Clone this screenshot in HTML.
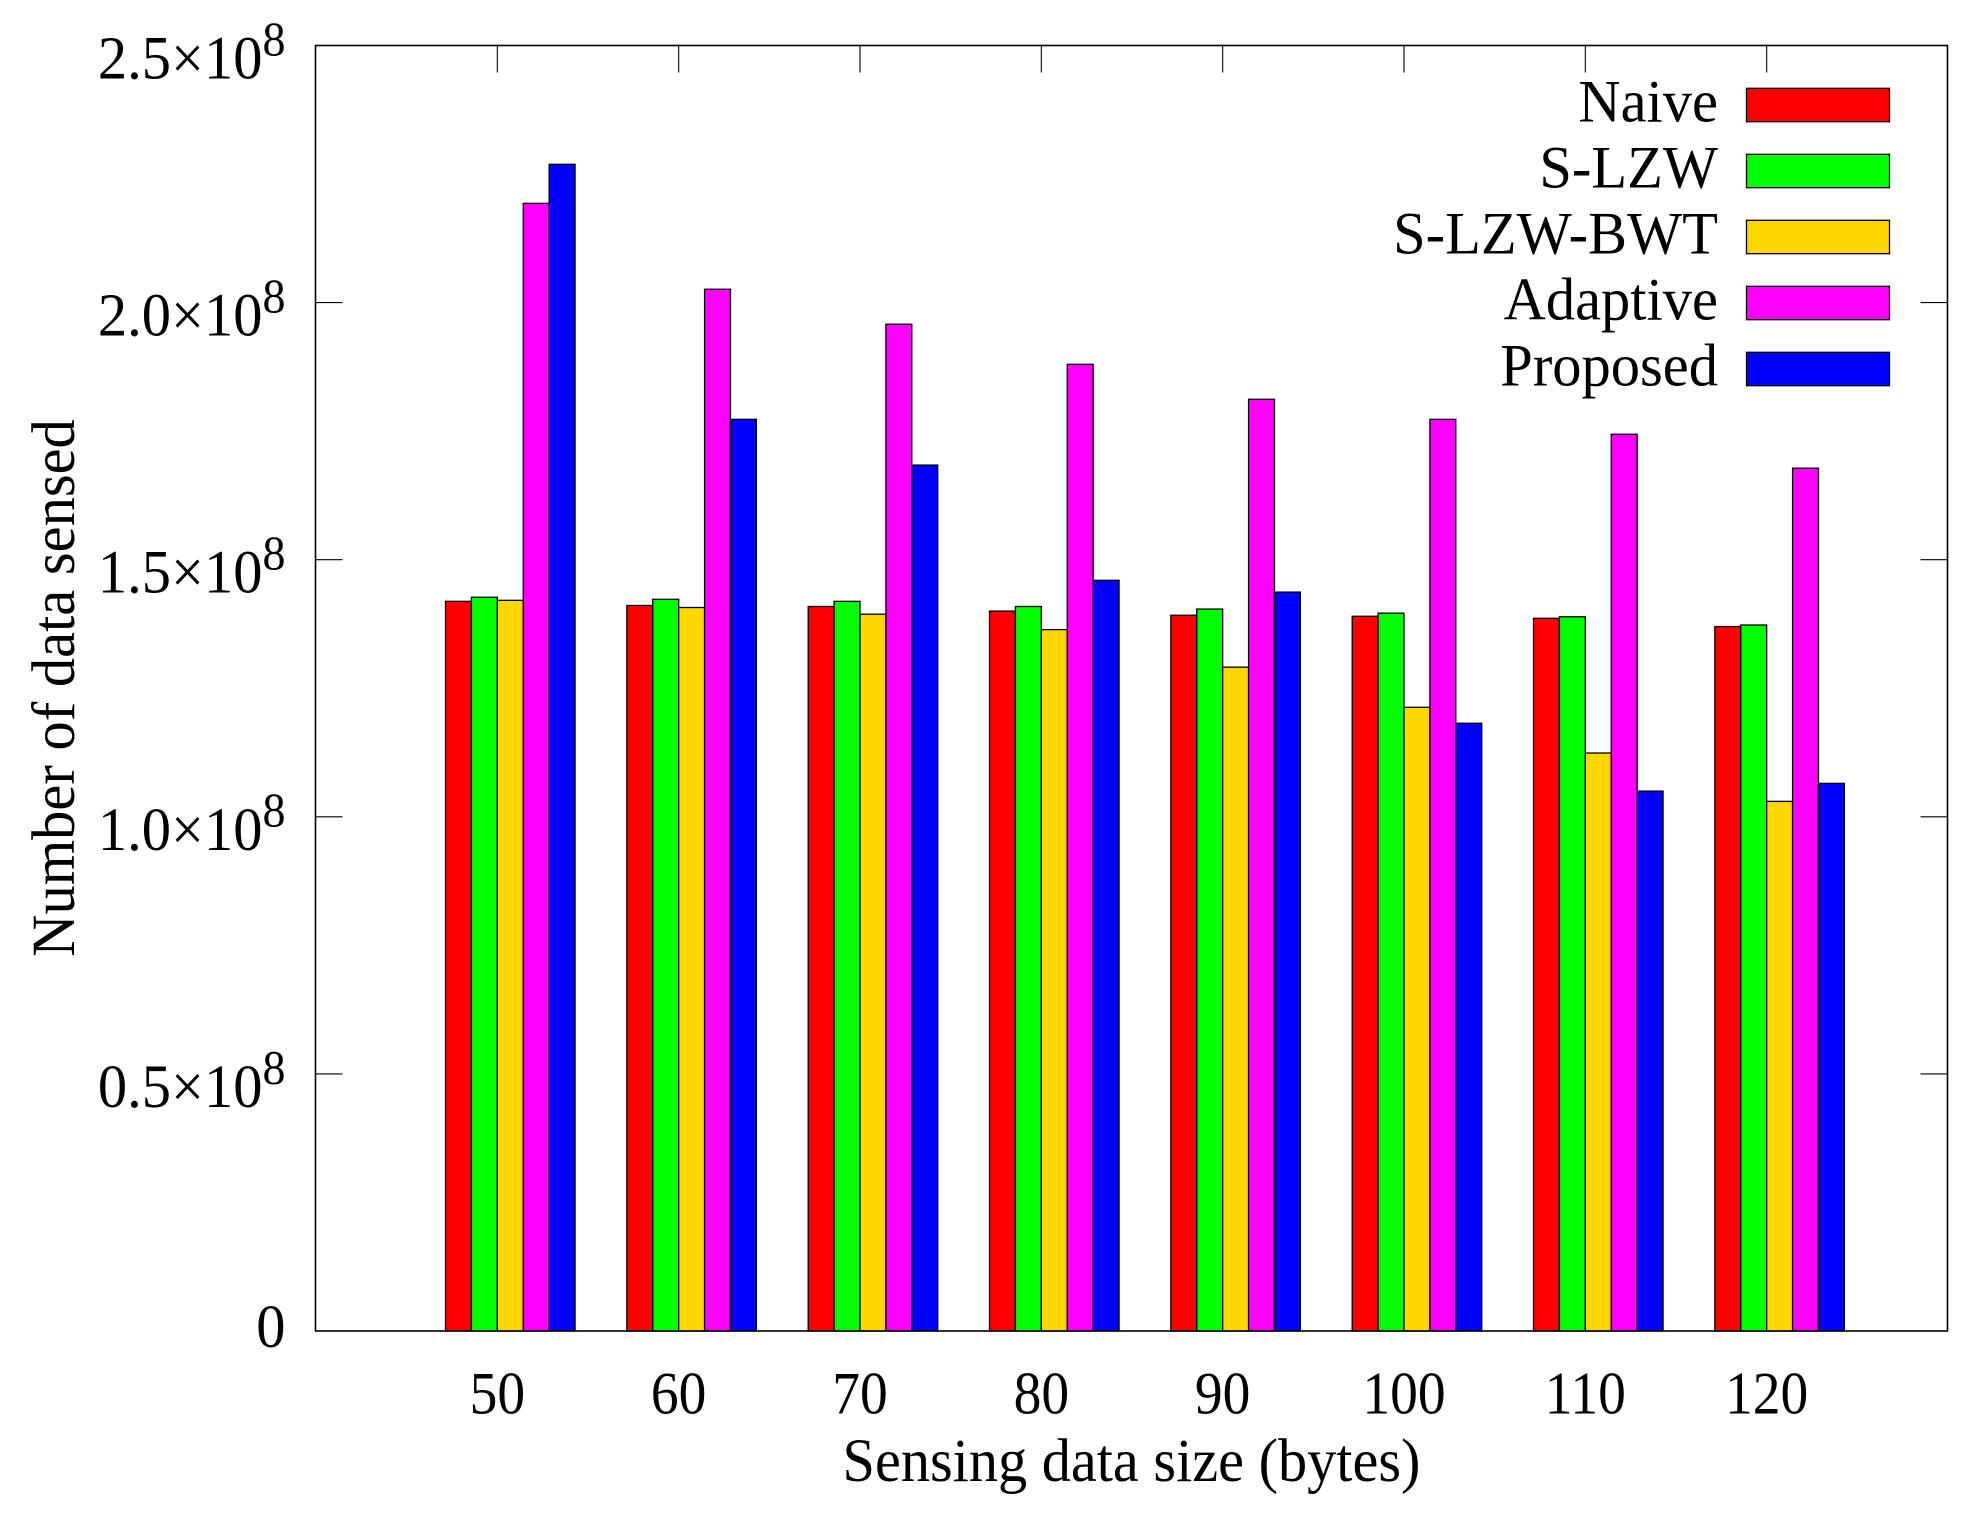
<!DOCTYPE html>
<html lang="en">
<head>
<meta charset="utf-8">
<title>Number of data sensed by sensing data size</title>
<style>
  html, body { margin: 0; padding: 0; background: #fff; }
  svg { display: block; }
  text { font-family: "Liberation Serif", serif; fill: #000; }
</style>
</head>
<body>
<svg id="chart" xmlns="http://www.w3.org/2000/svg" width="1966" height="1518" viewBox="0 0 1966 1518">
  <rect x="0" y="0" width="1966" height="1518" fill="#fff"></rect>
  <g id="bars"></g>
  <g id="ticks"></g>
  <rect x="315.5" y="45.5" width="1632" height="1285.5" fill="none" stroke="#000" stroke-width="1.6"></rect>
  <g id="labels"></g>
  <text transform="translate(1131.5 1481) scale(1 1.05)" x="0" y="0" font-size="58.3" text-anchor="middle">Sensing data size (bytes)</text>
  <text transform="translate(74 688) rotate(-90) scale(1 1.05)" x="0" y="0" font-size="58.5" text-anchor="middle">Number of data sensed</text>
  <g id="legend"></g>
</svg>
<script>
const categories = ['50', '60', '70', '80', '90', '100', '110', '120'];
const seriesNames = ['Naive', 'S-LZW', 'S-LZW-BWT', 'Adaptive', 'Proposed'];
const naive = [141900000, 141100000, 140900000, 140000000, 139200000, 139000000, 138600000, 137000000];
const sLzw = [142700000, 142300000, 141900000, 140900000, 140400000, 139600000, 138900000, 137300000];
const sLzwBwt = [142100000, 140700000, 139400000, 136400000, 129100000, 121300000, 112400000, 103000000];
const adaptive = [219300000, 202600000, 195800000, 188000000, 181200000, 177300000, 174400000, 167800000];
const proposed = [226900000, 177300000, 168400000, 146000000, 143700000, 118200000, 105000000, 106500000];
const yTickValues = [0, 50000000, 100000000, 150000000, 200000000, 250000000];
const yTickMantissas = ['0', '0.5', '1.0', '1.5', '2.0', '2.5'];
const yTickExponent = '8';

const allSeries = [naive, sLzw, sLzwBwt, adaptive, proposed];
const seriesColors = ['#ff0000', '#00ff00', '#ffd700', '#ff00ff', '#0000ff'];

const NS = 'http://www.w3.org/2000/svg';
const plotLeft = 315.5, plotRight = 1947.5, plotTop = 45.5, plotBottom = 1331;
const yMax = 250000000;
const xUnits = 9;
const unit = (plotRight - plotLeft) / xUnits;
const barWidth = unit / 7;
const tickLen = 27;

function xScale(i) { return plotLeft + 0.5 + (i + 1) * unit; }
function yScale(v) { return plotBottom - (v / yMax) * (plotBottom - plotTop); }
function make(tag, attrs, parent) {
  const el = document.createElementNS(NS, tag);
  for (const k in attrs) el.setAttribute(k, attrs[k]);
  parent.appendChild(el);
  return el;
}

const barsG = document.getElementById('bars');
const ticksG = document.getElementById('ticks');
const labelsG = document.getElementById('labels');
const legendG = document.getElementById('legend');

allSeries.forEach(function (values, s) {
  values.forEach(function (v, i) {
    const top = yScale(v);
    const bar = make('rect', {
      x: xScale(i) + (s - 2) * barWidth,
      y: top,
      width: barWidth,
      height: plotBottom - top,
      fill: seriesColors[s],
      stroke: '#000',
      'stroke-width': 1.3
    }, barsG);
    
    
  });
});

categories.forEach(function (c, i) {
  const x = xScale(i);
  const tick = make('line', { x1: x, x2: x, y1: plotTop, y2: plotTop + tickLen, stroke: '#000', 'stroke-width': 1.1 }, ticksG);
  
  
  const label = make('text', { transform: 'translate(' + x + ' 1413.5) scale(1 1.09)', x: 0, y: 0, 'font-size': 55.5, 'text-anchor': 'middle' }, labelsG);
  label.textContent = c;
  
  
});

yTickValues.forEach(function (v, i) {
  const y = yScale(v);
  if (v > 0 && v < yMax) {
    const left = make('line', { x1: plotLeft, x2: plotLeft + tickLen, y1: y, y2: y, stroke: '#000', 'stroke-width': 1.1 }, ticksG);
    
    
    const right = make('line', { x1: plotRight - tickLen, x2: plotRight, y1: y, y2: y, stroke: '#000', 'stroke-width': 1.1 }, ticksG);
    
    
  }
  const labelY = v === 0 ? y + 16 : y + 33;
  const label = make('text', { transform: 'translate(285.5 ' + labelY + ') scale(1 1.05)', x: 0, y: 0, 'font-size': 58.5, 'text-anchor': 'end' }, labelsG);
  
  
  if (v === 0) {
    label.textContent = yTickMantissas[i];
  } else {
    const base = make('tspan', {}, label);
    base.textContent = yTickMantissas[i] + '\u00D710';
    const sup = make('tspan', { dy: -22, 'font-size': 46 }, label);
    sup.textContent = yTickExponent;
  }
});

seriesNames.forEach(function (name, s) {
  const baseline = 121.7 + s * 66;
  const label = make('text', { transform: 'translate(1718 ' + baseline + ') scale(1 1.04)', x: 0, y: 0, 'font-size': 58.5, 'text-anchor': 'end' }, legendG);
  label.textContent = name;
  
  
  const swatch = make('rect', { x: 1746.5, y: baseline - 33.4, width: 143, height: 33.4, fill: seriesColors[s], stroke: '#000', 'stroke-width': 1.3 }, legendG);
  
  
});
</script>
</body>
</html>
